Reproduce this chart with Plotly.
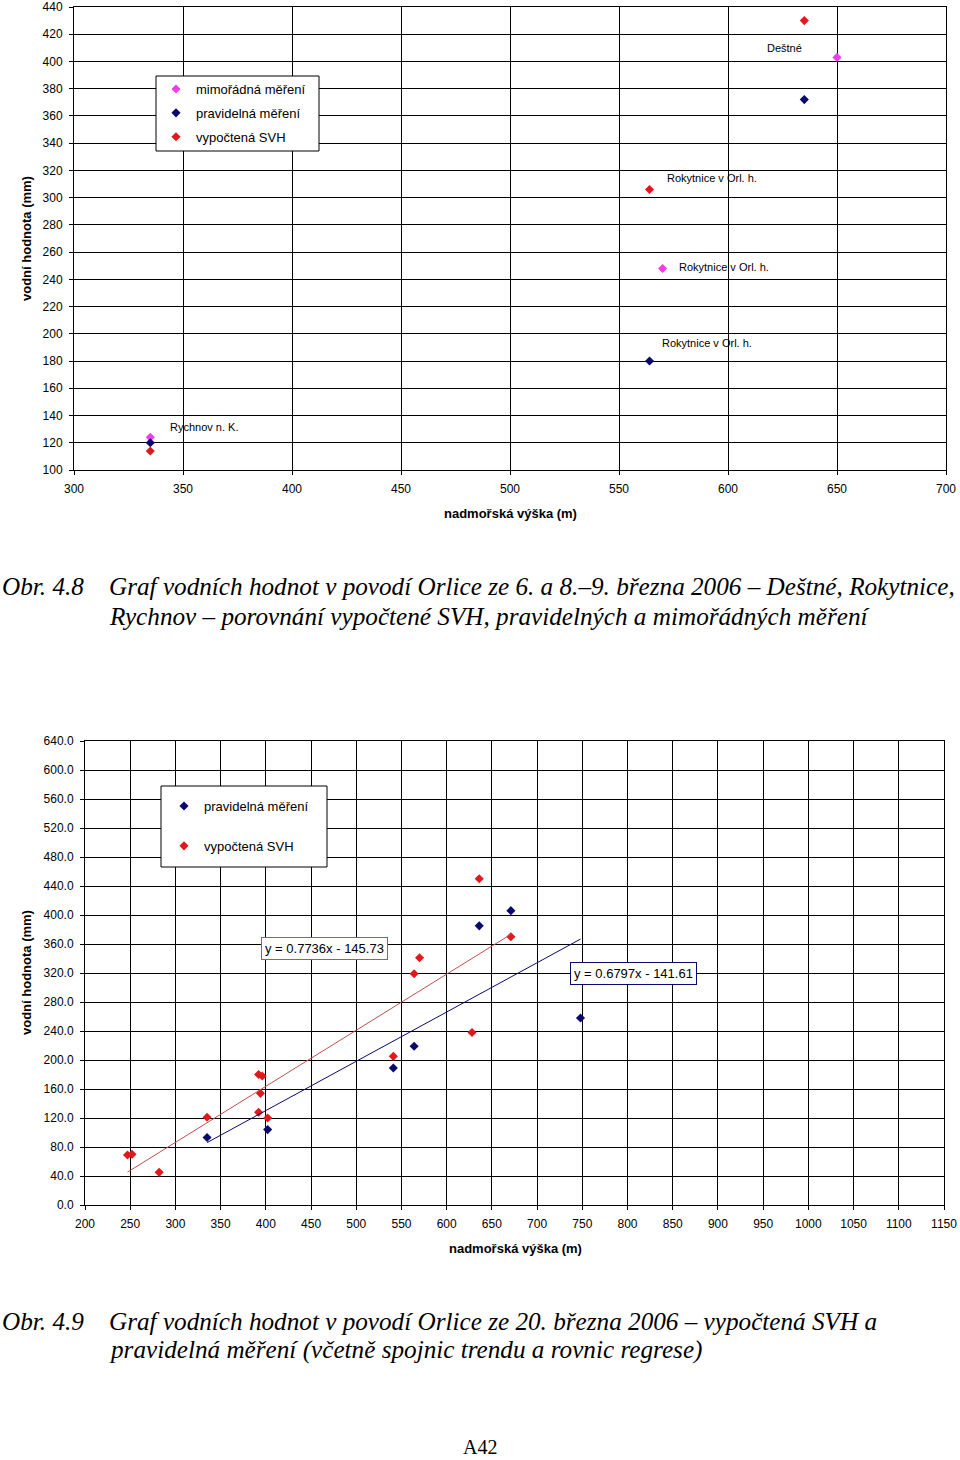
import plotly.graph_objects as go

W, H = 960, 1460

# ---------------- data: chart 1 (Obr. 4.8) ----------------
top_mimo_x = [335, 570, 650]
top_mimo_y = [124, 248, 403]
top_prav_x = [335, 564, 635]
top_prav_y = [120, 180, 372]
top_svh_x = [335, 564, 635]
top_svh_y = [114, 306, 430]

# point labels: (series, index, text, xshift, yshift)
top_labels = [
    ("mimo", 0, "Rychnov n. K.", 54, 10),
    ("svh", 1, "Rokytnice v Orl. h.", 62, 11),
    ("mimo", 1, "Rokytnice v Orl. h.", 61, 1),
    ("prav", 1, "Rokytnice v Orl. h.", 57, 18),
    ("mimo", 2, "Deštné", -53, 9),
]

# ---------------- data: chart 2 (Obr. 4.9) ----------------
bot_prav_x = [335, 402, 541, 564, 636, 671, 748]
bot_prav_y = [93, 104, 189, 219, 385, 406, 258]
bot_svh_x = [247, 252, 282, 335, 392, 392, 394, 396, 402, 541, 564, 570, 628, 636, 671]
bot_svh_y = [69, 70, 45, 121, 128, 180, 154, 178, 120, 205, 319, 341, 238, 450, 370]

trend_svh = (0.7736, -145.73)
trend_prav = (0.6797, -141.61)

RED = "#e0191c"
NAVY = "#0a0a6e"
MAGENTA = "#f03cf0"
RED_LINE = "#c0504d"
FONT = "Arial, Liberation Sans, sans-serif"
SERIF = "Times New Roman, Liberation Serif, serif"


def px_x(p):
    return p / W


def px_y(p):
    return 1 - p / H


fig = go.Figure()

mk = dict(symbol="diamond", size=7)
fig.add_trace(go.Scatter(x=top_mimo_x, y=top_mimo_y, mode="markers", name="mimořádná měření",
                         marker=dict(color=MAGENTA, **mk), xaxis="x", yaxis="y",
                         legend="legend", legendgroup="a"))
fig.add_trace(go.Scatter(x=top_prav_x, y=top_prav_y, mode="markers", name="pravidelná měření",
                         marker=dict(color=NAVY, **mk), xaxis="x", yaxis="y",
                         legend="legend", legendgroup="b"))
fig.add_trace(go.Scatter(x=top_svh_x, y=top_svh_y, mode="markers", name="vypočtená SVH",
                         marker=dict(color=RED, **mk), xaxis="x", yaxis="y",
                         legend="legend", legendgroup="c"))

fig.add_trace(go.Scatter(x=bot_prav_x, y=bot_prav_y, mode="markers", name="pravidelná měření",
                         marker=dict(color=NAVY, **mk), xaxis="x2", yaxis="y2",
                         legend="legend2", legendgroup="d"))
fig.add_trace(go.Scatter(x=bot_svh_x, y=bot_svh_y, mode="markers", name="vypočtená SVH",
                         marker=dict(color=RED, **mk), xaxis="x2", yaxis="y2",
                         legend="legend2", legendgroup="e"))

for xs, (a, b), col in [(bot_svh_x, trend_svh, RED_LINE), (bot_prav_x, trend_prav, NAVY)]:
    x0, x1 = min(xs), max(xs)
    fig.add_trace(go.Scatter(x=[x0, x1], y=[a * x0 + b, a * x1 + b], mode="lines",
                             line=dict(color=col, width=1), showlegend=False,
                             xaxis="x2", yaxis="y2", hoverinfo="skip"))

axis_common = dict(showgrid=True, gridcolor="black", gridwidth=1, showline=True,
                   linecolor="black", linewidth=1, mirror=True, ticks="outside",
                   ticklen=4, tickcolor="black", zeroline=False, automargin=False,
                   ticklabelstandoff=4,
                   tickfont=dict(family=FONT, size=12, color="black"))

legend_common = dict(xanchor="left", yanchor="top", bgcolor="rgba(0,0,0,0)",
                     borderwidth=0, font=dict(family=FONT, size=13, color="black"),
                     itemwidth=30)

fig.update_layout(
    template="none",
    width=W, height=H, margin=dict(l=0, r=0, t=0, b=0, pad=0, autoexpand=False),
    paper_bgcolor="white", plot_bgcolor="white",
    font=dict(family=FONT, size=12, color="black"),
    xaxis=dict(domain=[px_x(74), px_x(946)], range=[300, 700], dtick=50, anchor="y",
               **axis_common),
    yaxis=dict(domain=[px_y(470), px_y(7)], range=[100, 440], dtick=20, anchor="x",
               **axis_common),
    xaxis2=dict(domain=[px_x(85), px_x(944)], range=[200, 1150], dtick=50, anchor="y2",
                **axis_common),
    yaxis2=dict(domain=[px_y(1205), px_y(741)], range=[0, 640], dtick=40, anchor="x2",
                tickformat=".1f", **axis_common),
    legend=dict(x=px_x(156), y=px_y(74), tracegroupgap=4, **legend_common),
    legend2=dict(x=px_x(164), y=px_y(791), tracegroupgap=20, **legend_common),
    showlegend=True,
)

# legend frames (white boxes with black border, drawn over the grid)
for x0, y0, x1, y1 in [(156, 76, 319, 151), (161, 786, 327, 867)]:
    fig.add_shape(type="rect", xref="paper", yref="paper", x0=px_x(x0), x1=px_x(x1),
                  y0=px_y(y1), y1=px_y(y0), fillcolor="white",
                  line=dict(color="black", width=1), layer="above")

ann = []
series = {"mimo": (top_mimo_x, top_mimo_y), "prav": (top_prav_x, top_prav_y),
          "svh": (top_svh_x, top_svh_y)}
for s, i, t, dx, dy in top_labels:
    xs, ys = series[s]
    ann.append(dict(x=xs[i], y=ys[i], xref="x", yref="y", text=t, showarrow=False,
                    xshift=dx, yshift=dy, font=dict(family=FONT, size=11, color="black")))

for x, y, t, ang in [(27, 239, "vodní hodnota (mm)", -90), (510, 514, "nadmořská výška (m)", 0),
                     (27, 973, "vodní hodnota (mm)", -90), (515, 1248, "nadmořská výška (m)", 0)]:
    ann.append(dict(x=px_x(x), y=px_y(y), xref="paper", yref="paper", text="<b>%s</b>" % t,
                    xanchor="center", yanchor="middle",
                    showarrow=False, textangle=ang, font=dict(family=FONT, size=13, color="black")))

ann.append(dict(x=465, y=354, xref="x2", yref="y2", showarrow=False,
                text="y = %.4fx - %.2f" % (trend_svh[0], -trend_svh[1]),
                bgcolor="white", bordercolor=RED_LINE, borderwidth=1, borderpad=3,
                font=dict(family=FONT, size=13, color="black")))
ann.append(dict(x=807, y=319, xref="x2", yref="y2", showarrow=False,
                text="y = %.4fx - %.2f" % (trend_prav[0], -trend_prav[1]),
                bgcolor="white", bordercolor=NAVY, borderwidth=1, borderpad=3,
                font=dict(family=FONT, size=13, color="black")))

cap_font = dict(family=SERIF, size=25.2, color="black")
captions = [
    (0, 586, "<i>Obr. 4.8</i>"),
    (107, 586, "<i>Graf vodních hodnot v povodí Orlice ze 6. a 8.–9. března 2006 – Deštné, Rokytnice,</i>"),
    (107, 616, "<i>Rychnov – porovnání vypočtené SVH, pravidelných a mimořádných měření</i>"),
    (0, 1321, "<i>Obr. 4.9</i>"),
    (107, 1321, "<i>Graf vodních hodnot v povodí Orlice ze 20. března 2006 – vypočtená SVH a</i>"),
    (107, 1350, "<i>pravidelná měření (včetně spojnic trendu a rovnic regrese)</i>"),
]
for x, y, t in captions:
    ann.append(dict(x=px_x(x), y=px_y(y), xref="paper", yref="paper", xanchor="left",
                    yanchor="middle", text=t, showarrow=False, font=cap_font))
ann.append(dict(x=0.5, y=px_y(1447), xref="paper", yref="paper", text="A42", showarrow=False,
                xanchor="center", yanchor="middle",
                font=dict(family=SERIF, size=20, color="black")))

fig.update_layout(annotations=ann)
fig.write_html("out.html")
